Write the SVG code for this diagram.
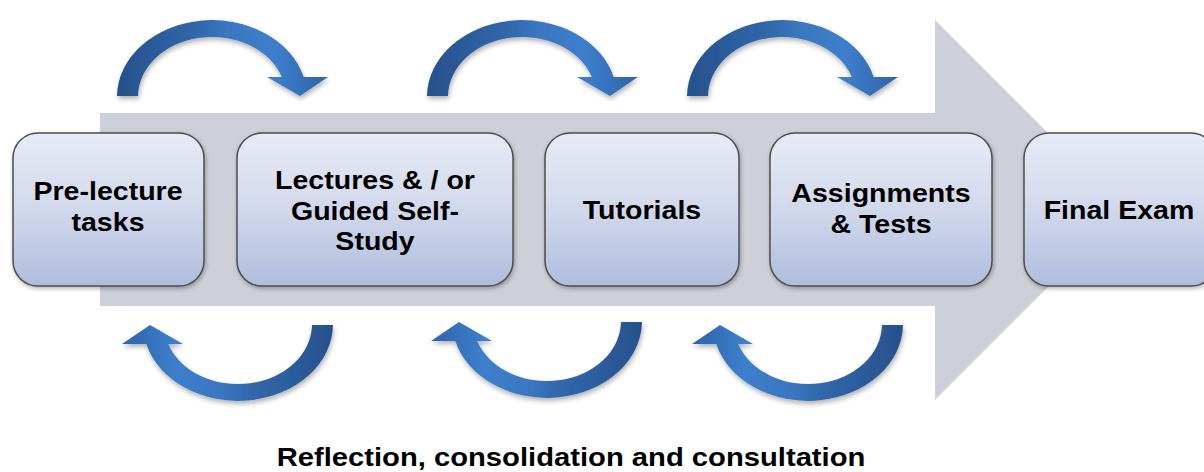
<svg xmlns="http://www.w3.org/2000/svg" width="1204" height="472" viewBox="0 0 1204 472">
  <defs>
    <linearGradient id="boxg" x1="0" y1="0" x2="0" y2="1">
      <stop offset="0" stop-color="#e8ebf6"/>
      <stop offset="0.5" stop-color="#d2d8ec"/>
      <stop offset="1" stop-color="#afbddc"/>
    </linearGradient>
    <linearGradient id="arrg" x1="0" y1="0" x2="1" y2="0">
      <stop offset="0" stop-color="#27518b"/>
      <stop offset="0.4" stop-color="#3168ad"/>
      <stop offset="0.52" stop-color="#3a76c0"/>
      <stop offset="0.75" stop-color="#3d7ecb"/>
      <stop offset="1" stop-color="#2f63a8"/>
    </linearGradient>
    <filter id="sh" x="-10%" y="-10%" width="130%" height="140%">
      <feDropShadow dx="1" dy="3" stdDeviation="2.5" flood-color="#000" flood-opacity="0.3"/>
    </filter>
    <filter id="bsh" x="-10%" y="-10%" width="130%" height="130%">
      <feDropShadow dx="1" dy="2" stdDeviation="2" flood-color="#000" flood-opacity="0.3"/>
    </filter>
    <path id="curv" d="M 117 96 A 95 77 0 0 1 303.7 77 L 328 77 L 300 96 L 267 77 L 281.8 77 A 74 60 0 0 0 138 96 Z"/>
  </defs>
  <style>
    .box { fill: url(#boxg); stroke: #4d4d4d; stroke-width: 1.5; filter: url(#bsh); }
    .lbl { font-family: "Liberation Sans", Arial, sans-serif; font-weight: bold; font-size: 25.5px; fill: #000; text-anchor: middle; }
    .curv { fill: url(#arrg); }
  </style>

  <g id="flow-arrow">
    <polygon points="100,113 935,113 935,20 1125,210 935,400 935,306 100,306" fill="#cdd0d8"/>
  </g>

  <g id="connectors">
    <g filter="url(#sh)">
      <use href="#curv" class="curv"/>
      <use href="#curv" class="curv" transform="translate(310,0)"/>
      <use href="#curv" class="curv" transform="translate(570,0)"/>
    </g>
    <g filter="url(#sh)">
      <use href="#curv" class="curv" transform="rotate(180 225 210.5)"/>
      <use href="#curv" class="curv" transform="translate(309,-3) rotate(180 225 210.5)"/>
      <use href="#curv" class="curv" transform="translate(570,0) rotate(180 225 210.5)"/>
    </g>
  </g>

  <g id="node-prelecture">
    <rect class="box" x="13" y="133" width="191" height="153" rx="25"/>
    <text class="lbl" transform="translate(108,200) scale(1.12,1)">Pre-lecture</text>
    <text class="lbl" transform="translate(108,231) scale(1.12,1)">tasks</text>
  </g>
  <g id="node-lectures">
    <rect class="box" x="237" y="133" width="276" height="153" rx="25"/>
    <text class="lbl" transform="translate(375,189) scale(1.12,1)">Lectures &amp; / or</text>
    <text class="lbl" transform="translate(375,220) scale(1.12,1)">Guided Self-</text>
    <text class="lbl" transform="translate(375,250) scale(1.12,1)">Study</text>
  </g>
  <g id="node-tutorials">
    <rect class="box" x="545" y="133" width="194" height="153" rx="25"/>
    <text class="lbl" transform="translate(642,219) scale(1.12,1)">Tutorials</text>
  </g>
  <g id="node-assignments">
    <rect class="box" x="770" y="133" width="222" height="153" rx="25"/>
    <text class="lbl" transform="translate(881,202) scale(1.12,1)">Assignments</text>
    <text class="lbl" transform="translate(881,233) scale(1.12,1)">&amp; Tests</text>
  </g>
  <g id="node-final">
    <rect class="box" x="1024" y="133" width="192" height="153" rx="25"/>
    <text class="lbl" transform="translate(1119,219) scale(1.12,1)">Final Exam</text>
  </g>

  <g id="caption">
    <text class="lbl" transform="translate(571,466) scale(1.145,1)">Reflection, consolidation and consultation</text>
  </g>
</svg>
